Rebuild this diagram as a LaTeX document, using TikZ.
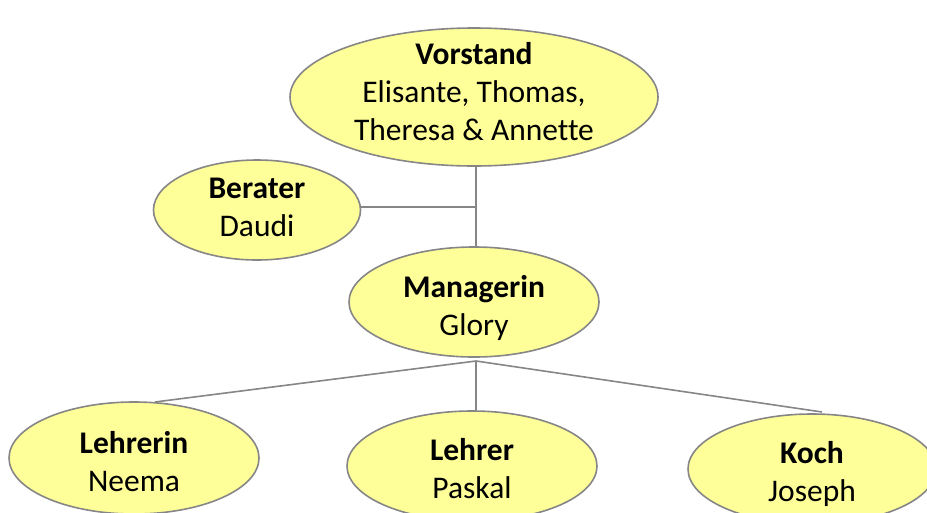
\documentclass[tikz,border=0pt]{standalone}
\usepackage{fontspec}
\setmainfont{Carlito}[Ligatures=NoCommon]
\usetikzlibrary{shapes.geometric,calc}
\definecolor{ovalfill}{HTML}{FFFF99}
\definecolor{linegray}{HTML}{868686}
\begin{document}
\begin{tikzpicture}[x=1pt,y=-1pt,
  oval/.style={ellipse, draw=linegray, line width=1.6pt, fill=ovalfill, inner sep=0pt},
  ovaltext/.style={inner sep=0pt, align=center, font=\fontsize{31.5}{38}\selectfont},
  link/.style={draw=linegray, line width=1.6pt}]
\useasboundingbox (0,0) rectangle (927,512);
\node[oval, minimum width=368pt, minimum height=138pt,
  label={[ovaltext, yshift=5pt]center:{\textbf{Vorstand}\\Elisante, Thomas,\\Theresa \& Annette}}]
  (vorstand) at (474,97) {};
\node[oval, minimum width=207pt, minimum height=100pt,
  label={[ovaltext, yshift=3pt]center:{\textbf{Berater}\\Daudi}}]
  (berater) at (257,210) {};
\node[oval, minimum width=250pt, minimum height=110pt,
  label={[ovaltext, yshift=-6pt]center:{\textbf{Managerin}\\Glory}}]
  (managerin) at (474,302) {};
\node[oval, minimum width=250pt, minimum height=112pt,
  label={[ovaltext, yshift=-4pt]center:{\textbf{Lehrerin}\\Neema}}]
  (lehrerin) at (134,458) {};
\node[oval, minimum width=250pt, minimum height=110pt,
  label={[ovaltext, yshift=-3pt]center:{\textbf{Lehrer}\\Paskal}}]
  (lehrer) at (472,466) {};
\node[oval, minimum width=248pt, minimum height=110pt,
  label={[ovaltext, yshift=-5pt]center:{\textbf{Koch}\\Joseph}}]
  (koch) at (812,469) {};
\coordinate (top) at (476,166);
\coordinate (mtop) at (476,247);
\coordinate (join) at (476,207);
\coordinate (hub) at (476,361);
\coordinate (lin) at (155,402);
\coordinate (lrin) at (476,410);
\coordinate (kin) at (822,412);
\draw[link] (top) -- (mtop);
\draw[link] (berater.east |- join) -- (join);
\draw[link] (hub) -- (lin);
\draw[link] (hub) -- (lrin);
\draw[link] (hub) -- (kin);
\end{tikzpicture}
\end{document}
